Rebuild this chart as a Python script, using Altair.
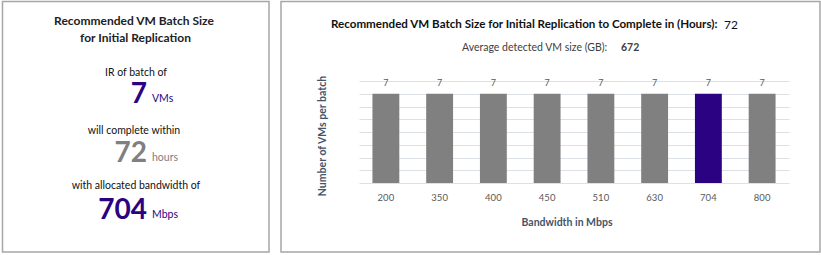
import altair as alt
import pandas as pd

# ---- data ----
bandwidth = ["200", "350", "400", "450", "510", "630", "704", "800"]
vms_per_batch = [7, 7, 7, 7, 7, 7, 7, 7]
selected_bw = "704"
batch_vms = 7
hours = 72
avg_vm_size = 672

FONT = "Lato"
PURPLE = "#2B0382"
GRAY = "#808080"
SLATE = "#44546A"
BORDER = "#A6A6A6"

df = pd.DataFrame({"bw": bandwidth, "vms": vms_per_batch})
one = pd.DataFrame({"k": [0]})

# plot-area origin inside the 821x255 page
OX, OY = 359, 81


def txt(s, x, y, size, color, weight="normal", align="center", baseline="middle"):
    return alt.Chart(one).mark_text(
        text=s, fontSize=size, color=color, fontWeight=weight,
        align=align, baseline=baseline, font=FONT
    ).encode(x=alt.value(x - OX), y=alt.value(y - OY))


def box(x1, y1, x2, y2):
    return alt.Chart(one).mark_rect(
        fillOpacity=0, stroke=BORDER, strokeWidth=1.5
    ).encode(x=alt.value(x1 - OX), x2=alt.value(x2 - OX),
             y=alt.value(y1 - OY), y2=alt.value(y2 - OY))


x_enc = alt.X(
    "bw:N", sort=bandwidth,
    scale=alt.Scale(paddingInner=0.5, paddingOuter=0.25),
    axis=alt.Axis(
        title="Bandwidth in Mbps", labelAngle=0, labelFontSize=9.5,
        labelColor="#595959", labelFont=FONT, labelPadding=14,
        labelBaseline="middle", ticks=False, tickSize=0, domain=False,
        titleFont=FONT, titleFontSize=10.5, titleFontWeight="bold",
        titleColor=SLATE, titleX=207.5, titleY=39, titleBaseline="middle",
        titleAlign="center"),
)
y_enc = alt.Y(
    "vms:Q",
    scale=alt.Scale(domain=[0, 8], nice=False),
    axis=alt.Axis(
        values=list(range(9)), grid=True, gridColor="#DCE1E8", gridWidth=1,
        labels=False, ticks=False, domain=False,
        title="Number of VMs per batch", titleFont=FONT, titleFontSize=10.5,
        titleFontWeight="bold", titleColor=SLATE, titleX=-37, titleY=54.5,
        titleAngle=270, titleBaseline="middle", titleAlign="center"),
)

bars = alt.Chart(df).mark_bar().encode(
    x=x_enc, y=y_enc,
    color=alt.condition(f"datum.bw === '{selected_bw}'",
                        alt.value(PURPLE), alt.value(GRAY)),
)
bar_labels = alt.Chart(df).mark_text(
    dy=-11, fontSize=9, color="#595959", font=FONT, baseline="middle"
).encode(x=x_enc, y=y_enc, text="vms:Q")

layers = [
    box(2.5, 1.5, 269, 252),
    box(281, 1.5, 820, 252),
    bars,
    bar_labels,
    # right panel titles
    txt("Recommended VM Batch Size for Initial Replication to Complete in (Hours):",
        331, 25, 11.6, "#111111", "bold", "left"),
    txt(str(hours), 724, 25, 12, "#111111", "normal", "left"),
    txt("Average detected VM size (GB):", 462, 48, 10.5, "#404040", "normal", "left"),
    txt(str(avg_vm_size), 621, 48, 10.5, "#404040", "bold", "left"),
    # left panel
    txt("Recommended VM Batch Size", 134, 21, 12, "#222222", "bold"),
    txt("for Initial Replication", 135.5, 38, 12, "#222222", "bold"),
    txt("IR of batch of", 136, 73, 10.5, "#111111"),
    txt(str(batch_vms), 147, 103, 28, PURPLE, "bold", "right", "alphabetic"),
    txt("VMs", 152, 102, 10.5, PURPLE, "normal", "left", "alphabetic"),
    txt("will complete within", 134, 131, 10.5, "#111111"),
    txt(str(hours), 147, 162, 28, GRAY, "bold", "right", "alphabetic"),
    txt("hours", 152, 161, 10.5, GRAY, "normal", "left", "alphabetic"),
    txt("with allocated bandwidth of", 136, 186, 10.5, "#111111"),
    txt(selected_bw, 147, 219, 28, PURPLE, "bold", "right", "alphabetic"),
    txt("Mbps", 152, 218, 10.5, PURPLE, "normal", "left", "alphabetic"),
]

chart = alt.layer(*layers).properties(
    width=430, height=102,
    padding={"left": OX, "top": OY, "right": 821 - 789, "bottom": 255 - 183},
    autosize="none",
    background="white",
).configure_view(stroke=None)

chart.save("out.html", embed_options={"renderer": "svg", "actions": False})
